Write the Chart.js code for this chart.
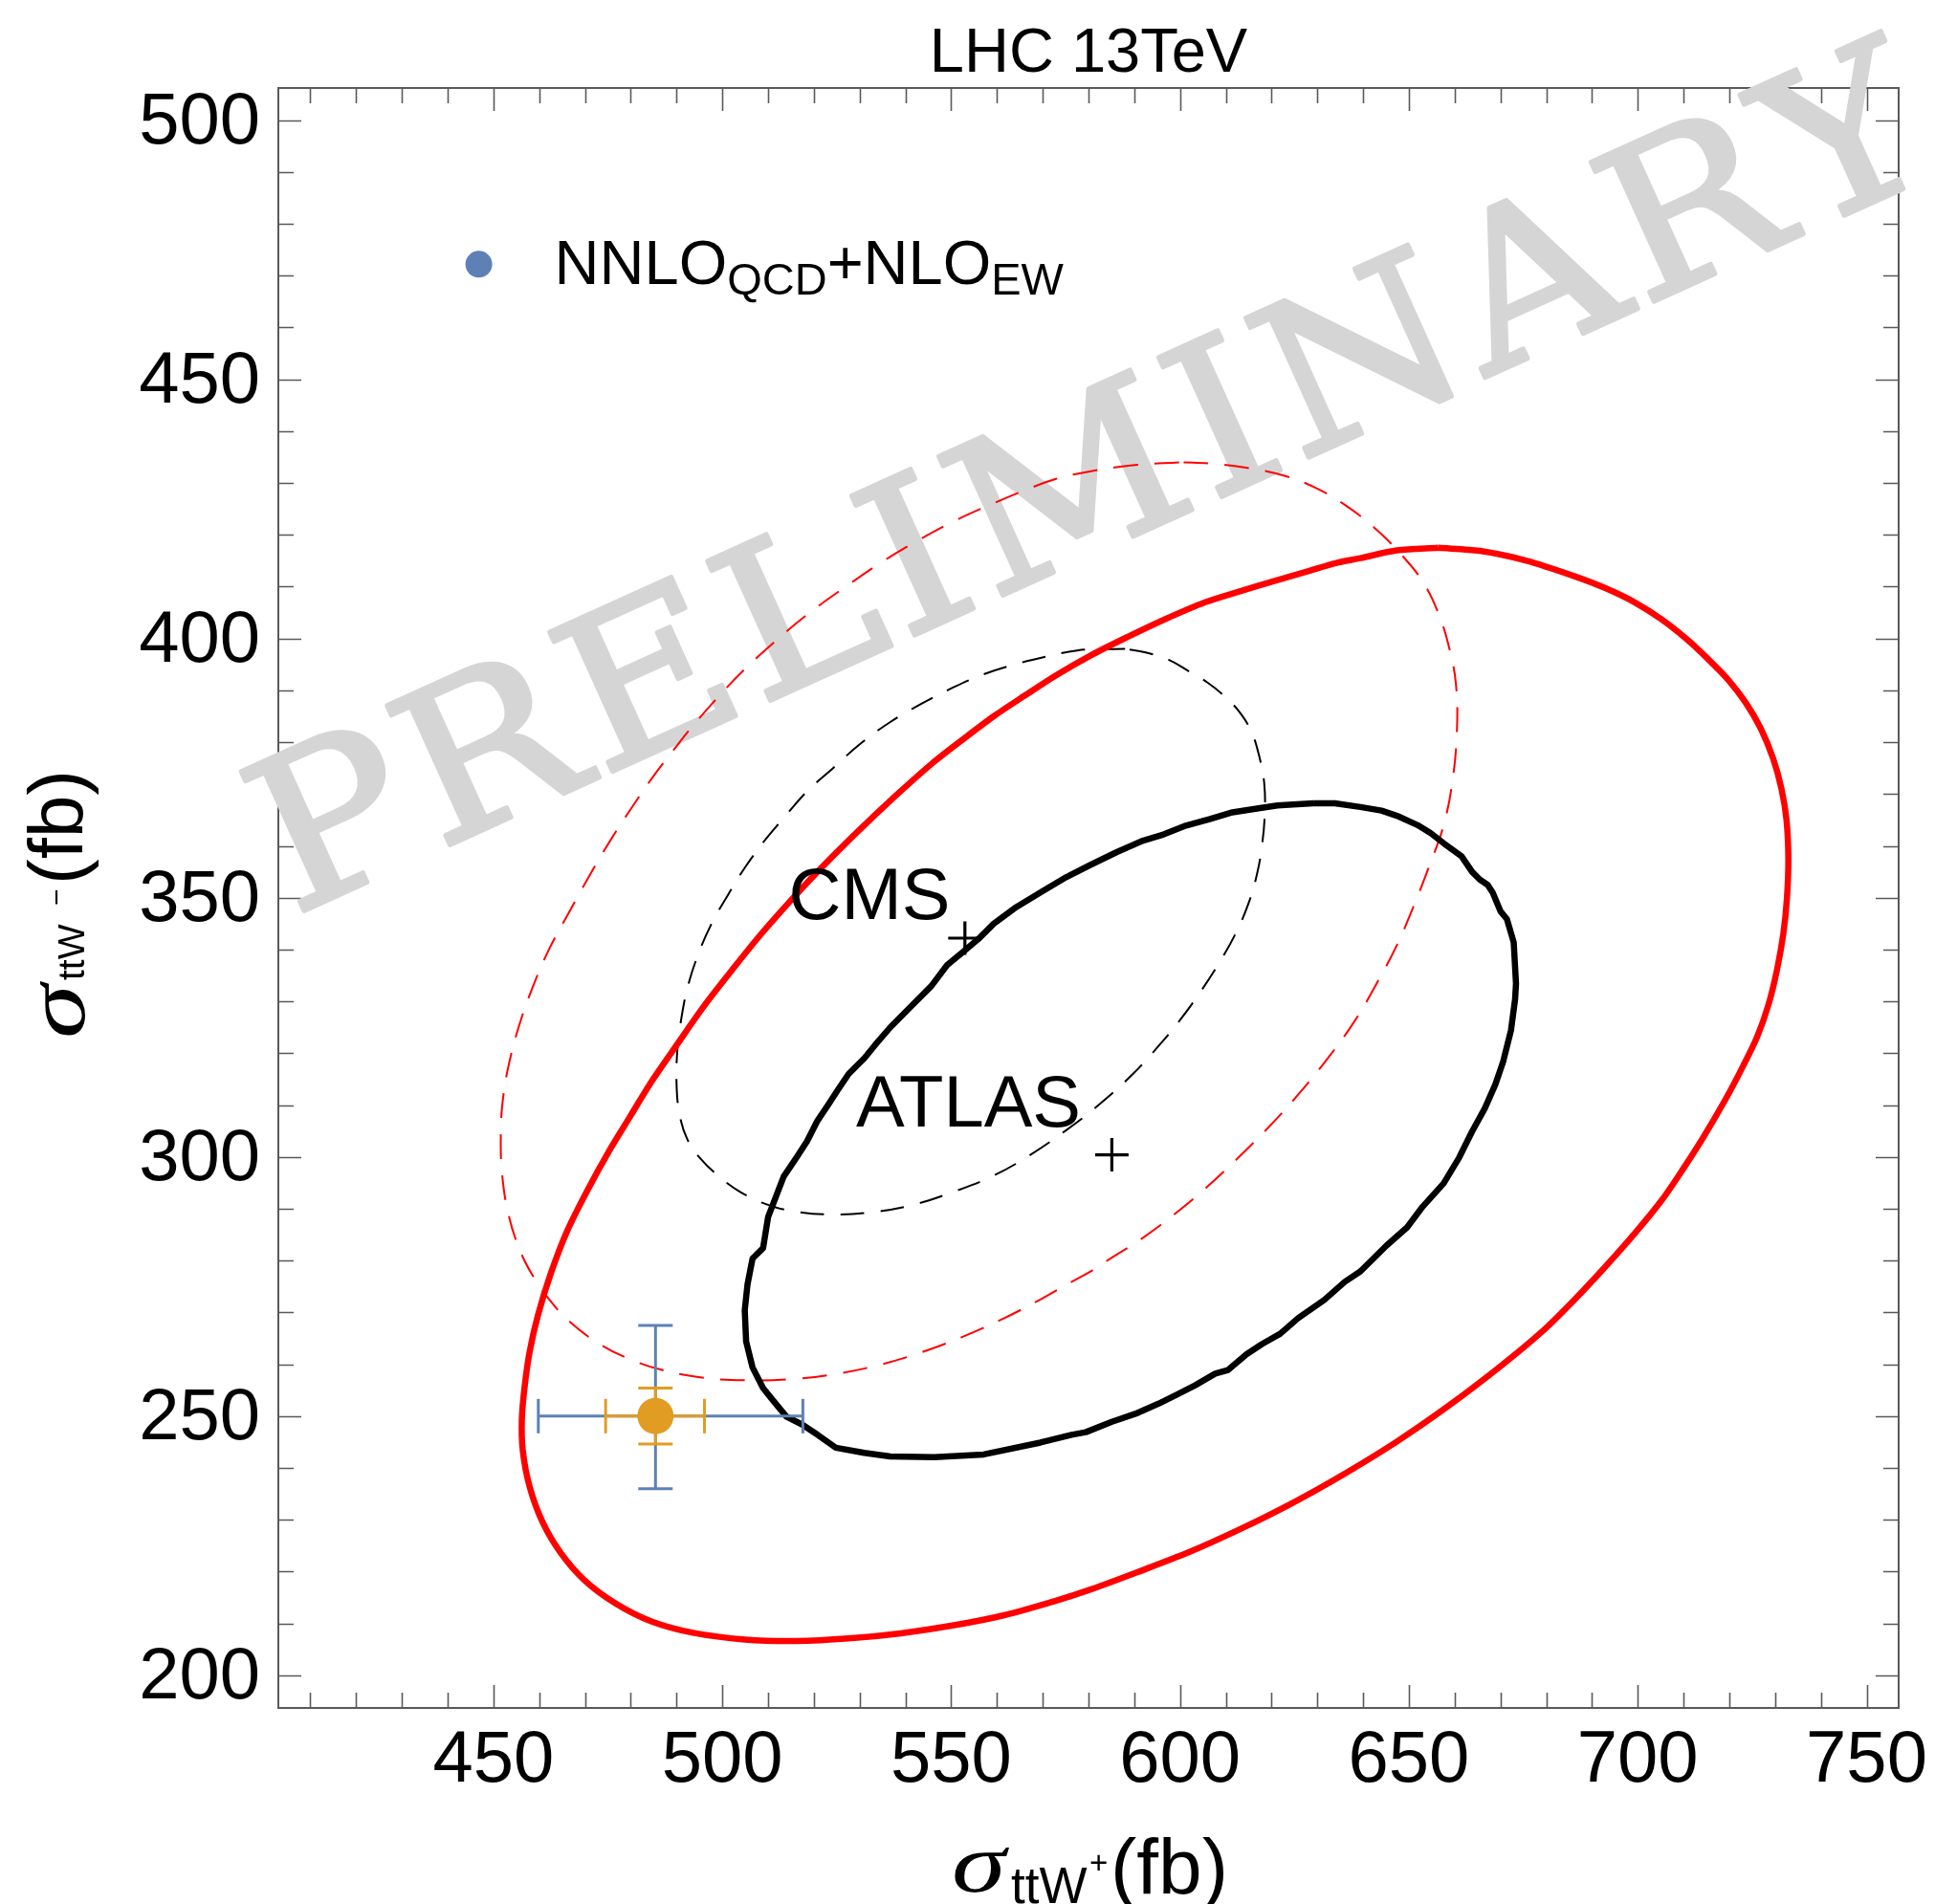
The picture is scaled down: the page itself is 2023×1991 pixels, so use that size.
<!DOCTYPE html>
<html><head><meta charset="utf-8">
<script src="https://cdn.jsdelivr.net/npm/chart.js@4.4.1/dist/chart.umd.min.js"></script>
<style>html,body{margin:0;padding:0;background:#fff;}canvas{display:block;}</style>
</head><body>
<canvas id="c" width="2023" height="1991"></canvas>
<script>
// ---------- data ----------
const xTicks = [450, 500, 550, 600, 650, 700, 750];
const xTickLabels = ['450', '500', '550', '600', '650', '700', '750'];
const yTicks = [200, 250, 300, 350, 400, 450, 500];
const yTickLabels = ['200', '250', '300', '350', '400', '450', '500'];

const redSolidContour = [
[656.4,417.5],[647.4,417.0],[639.4,415.5],[633.8,414.5],[628.1,413.0],[620.2,411.0],[613.4,409.2],[605.5,407.0],[596.4,403.6],[588.5,400.3],
[580.6,396.8],[572.9,392.9],[566.1,389.0],[559.3,385.0],[552.5,380.5],[545.7,375.8],[537.8,369.6],[528.7,362.0],[520.8,355.0],[515.1,349.6],
[508.3,342.8],[502.7,336.7],[495.9,329.0],[490.2,321.8],[484.5,314.5],[480.0,308.0],[475.5,301.5],[470.5,293.5],[466.0,285.5],[462.4,277.2],
[459.7,269.4],[457.9,262.4],[456.8,255.6],[456.2,249.4],[456.4,243.4],[457.9,236.4],[460.8,229.4],[464.7,223.6],[469.8,218.4],[476.6,213.9],
[484.5,210.4],[493.6,208.2],[504.9,206.9],[516.3,206.6],[527.6,207.1],[539.0,208.1],[550.3,209.6],[561.6,211.6],[572.9,214.4],[580.6,216.6],
[590.7,219.9],[602.1,223.8],[613.4,228.3],[624.7,233.3],[636.0,238.9],[647.4,245.1],[658.7,252.0],[670.0,259.6],[679.1,266.3],[685.9,272.2],
[692.7,278.6],[699.5,285.4],[705.2,291.6],[709.7,297.4],[714.2,303.6],[719.3,311.3],[723.0,317.5],[726.1,323.2],[728.6,329.5],[730.4,336.0],
[731.8,343.0],[732.6,350.0],[732.9,357.5],[732.5,365.0],[731.4,371.0],[729.6,376.8],[726.9,382.6],[723.6,387.6],[719.8,392.0],[715.4,396.0],
[710.8,399.8],[705.2,403.7],[699.5,406.9],[692.7,409.8],[685.9,412.1],[675.7,415.0],[665.5,416.9],[656.4,417.5]
];

const blackSolidContour = [
[629.2,368.2],[624.7,368.0],[621.3,367.8],[616.8,367.2],[611.1,366.4],[606.6,365.2],[600.9,363.8],[596.4,362.2],[591.9,361.0],[586.2,358.8],
[580.6,356.4],[575.2,354.0],[569.5,351.0],[563.9,348.0],[559.3,345.0],[555.9,342.0],[552.5,339.5],[549.1,337.0],[545.7,333.0],[541.2,329.0],
[536.7,325.0],[533.3,321.5],[531.0,319.0],[527.6,316.0],[525.3,313.0],[523.1,310.0],[520.8,307.0],[518.5,303.0],[516.3,300.0],[513.4,296.2],
[510.0,288.4],[508.9,282.4],[506.6,280.4],[505.5,275.4],[504.9,270.4],[505.2,264.4],[506.6,259.4],[508.9,255.4],[511.2,252.9],[514.0,249.9],
[517.4,248.4],[520.8,246.4],[524.8,243.9],[531.0,242.9],[536.7,242.2],[546.3,242.1],[557.1,242.6],[569.5,244.9],[576.3,246.4],[579.4,246.9],
[585.1,248.9],[590.7,250.6],[595.3,252.4],[599.2,254.1],[603.2,255.9],[607.7,258.2],[610.5,258.9],[614.5,261.9],[617.9,263.9],[621.9,265.9],
[625.8,268.9],[631.5,272.4],[636.0,275.9],[639.4,277.9],[645.1,282.9],[649.6,286.4],[653.0,290.4],[657.6,294.9],[661.0,299.9],[663.8,304.9],
[666.6,309.4],[668.9,314.0],[670.6,318.4],[672.3,324.4],[673.2,330.4],[673.4,333.4],[672.9,341.4],[671.4,345.9],[670.0,347.4],[668.3,351.0],
[667.2,352.5],[665.5,353.5],[663.8,355.0],[661.5,358.0],[657.6,360.5],[654.7,362.5],[651.9,364.0],[647.4,365.8],[644.0,366.8],[639.4,367.5],
[633.8,368.2],[629.2,368.2]
];

const redDashedEllipse = [
[599.8,434.0],[590.7,433.5],[580.0,432.2],[572.9,430.8],[566.1,428.6],[559.3,426.1],[550.3,422.5],[542.3,418.7],[534.4,414.5],[527.6,410.4],
[519.7,405.4],[512.9,400.5],[506.1,395.1],[500.4,390.0],[493.6,383.2],[489.1,378.2],[484.5,372.9],[480.0,367.1],[475.5,361.0],[471.0,354.3],
[466.4,347.0],[461.9,339.6],[458.5,332.6],[455.7,325.6],[453.5,318.4],[452.1,311.4],[451.6,304.3],[451.9,296.6],[453.2,289.2],[455.5,282.6],
[458.5,277.2],[462.1,272.6],[466.4,268.4],[473.2,263.9],[480.0,260.9],[486.8,258.9],[495.9,257.4],[506.1,256.9],[516.3,257.2],[525.3,258.2],
[534.4,259.9],[543.5,262.3],[552.5,265.3],[561.6,268.9],[569.5,272.5],[576.3,275.9],[580.6,278.0],[583.9,279.9],[591.9,284.4],[598.7,288.9],
[605.5,293.9],[612.2,299.4],[619.0,305.4],[625.8,312.0],[632.6,319.4],[638.3,326.4],[642.8,333.2],[647.4,340.9],[651.1,348.5],[654.4,356.0],
[657.6,364.0],[659.6,373.0],[660.5,382.5],[660.3,391.0],[659.0,397.5],[656.6,404.5],[653.0,411.0],[647.8,416.7],[642.3,421.5],[636.0,425.8],
[629.3,429.2],[622.8,431.4],[615.6,432.8],[607.7,433.7],[599.8,434.0]
];

const blackDashedEllipse = [
[588.0,398.0],[581.7,397.9],[577.5,397.7],[570.7,396.5],[563.9,395.0],[557.1,393.1],[550.3,390.5],[543.5,387.4],[536.7,383.9],[529.9,379.5],
[524.2,375.0],[518.5,370.5],[514.0,366.0],[509.5,361.3],[505.0,355.9],[501.0,350.2],[497.6,344.9],[494.7,339.0],[492.5,333.0],[491.1,327.0],
[490.2,320.8],[490.0,314.0],[490.7,308.0],[492.4,303.3],[495.3,299.6],[499.3,296.2],[503.8,293.3],[509.5,290.9],[516.3,289.4],[524.2,288.9],
[533.3,289.4],[542.3,290.9],[550.3,293.2],[559.3,296.4],[567.3,300.4],[575.2,305.2],[582.2,310.0],[589.6,315.9],[595.5,321.6],[600.0,326.4],
[604.2,331.5],[608.6,337.5],[612.2,343.2],[615.0,349.0],[616.8,354.5],[617.9,360.0],[618.5,366.0],[618.4,372.0],[617.3,377.3],[615.6,382.0],
[613.0,385.8],[609.8,388.8],[606.0,391.5],[602.1,393.6],[597.5,395.9],[592.5,397.3],[588.0,398.0]
];

const nnloPoint = [485.4, 250.0];
const nnloOuterX = [459.8, 517.6];   // blue horizontal bar
const nnloOuterY = [236.0, 267.5];   // blue vertical bar
const nnloInnerX = [474.5, 496.1];   // orange horizontal bar
const nnloInnerY = [244.6, 255.4];   // orange vertical bar
const cmsCenter = [553.0, 342.2];
const atlasCenter = [585.1, 300.4];
const cmsLabelPos = [514.5, 345.9];
const atlasLabelPos = [529.2, 305.9];
const legendPos = [446.8, 472.2];

// ---------- helpers ----------
const pts = arr => arr.map(p => ({x: p[0], y: p[1]}));
const BLUE = '#5E81B5', ORANGE = '#E19C24';
const SANS = '"Liberation Sans", Arial, Helvetica, sans-serif';
const SERIF_IT = 'italic 88px "Liberation Serif", "Times New Roman", serif';

function txt(ctx, s, x, y, font, align) {
  ctx.font = font; ctx.textAlign = align || 'left'; ctx.textBaseline = 'alphabetic';
  ctx.fillText(s, x, y);
}
function sigma(ctx, x, y) {
  ctx.save(); ctx.translate(x, y); ctx.scale(1.3, 1);
  txt(ctx, '\u03C3', 0, 0, SERIF_IT); ctx.restore();
}

const decor = {
  id: 'decor',
  beforeDatasetsDraw(chart) {
    const {ctx, chartArea: a, scales: {x, y}} = chart;
    ctx.save();
    // frame
    ctx.strokeStyle = '#595959'; ctx.lineWidth = 2;
    ctx.strokeRect(a.left, a.top, a.right - a.left, a.bottom - a.top);
    // ticks (inward on all four sides)
    ctx.lineWidth = 1.6; ctx.strokeStyle = '#595959';
    ctx.beginPath();
    for (let v = 410; v <= 750; v += 10) {
      const px = Math.round(x.getPixelForValue(v)) + 0.5;
      const len = v % 50 === 0 ? 24 : 16;
      ctx.moveTo(px, a.bottom); ctx.lineTo(px, a.bottom - len);
      ctx.moveTo(px, a.top); ctx.lineTo(px, a.top + len);
    }
    for (let v = 200; v <= 500; v += 10) {
      const py = Math.round(y.getPixelForValue(v)) + 0.5;
      const len = v % 50 === 0 ? 24 : 16;
      ctx.moveTo(a.left, py); ctx.lineTo(a.left + len, py);
      ctx.moveTo(a.right, py); ctx.lineTo(a.right - len, py);
    }
    ctx.stroke();
    // tick labels
    ctx.fillStyle = '#000';
    xTicks.forEach((v, i) => txt(ctx, xTickLabels[i], x.getPixelForValue(v), a.bottom + 77, '76px ' + SANS, 'center'));
    yTicks.forEach((v, i) => txt(ctx, yTickLabels[i], a.left - 19, y.getPixelForValue(v) + 24, '76px ' + SANS, 'right'));
    // watermark
    ctx.save();
    ctx.translate(306, 958);
    ctx.rotate(-24.3 * Math.PI / 180);
    ctx.scale(1.08, 1);
    ctx.fillStyle = '#d5d5d5'; ctx.strokeStyle = '#d5d5d5';
    ctx.lineWidth = 4.5; ctx.lineJoin = 'round';
    ctx.font = '220px "DejaVu Serif"'; ctx.textAlign = 'left'; ctx.textBaseline = 'alphabetic';
    let u = 0;
    for (const ch of 'PRELIMINARY') {
      ctx.fillText(ch, u, 0); ctx.strokeText(ch, u, 0);
      u += ctx.measureText(ch).width + 7;
    }
    ctx.restore();
    ctx.restore();
  },
  afterDatasetsDraw(chart) {
    const {ctx, chartArea: a, scales: {x, y}} = chart;
    ctx.save();
    ctx.fillStyle = '#000';
    // CMS / ATLAS labels
    txt(ctx, 'CMS', x.getPixelForValue(cmsLabelPos[0]), y.getPixelForValue(cmsLabelPos[1]), '76px ' + SANS);
    txt(ctx, 'ATLAS', x.getPixelForValue(atlasLabelPos[0]), y.getPixelForValue(atlasLabelPos[1]), '76px ' + SANS);
    // legend
    const lx = x.getPixelForValue(legendPos[0]), ly = y.getPixelForValue(legendPos[1]);
    ctx.fillStyle = BLUE;
    ctx.beginPath(); ctx.arc(lx, ly, 14, 0, Math.PI * 2); ctx.fill();
    ctx.fillStyle = '#000';
    let cx = lx + 79; const base = ly + 20.5;
    const run = [['NNLO', 65, 0], ['QCD', 47, 11], ['+NLO', 65, 0], ['EW', 47, 11]];
    run.forEach(([s, f, dy]) => {
      txt(ctx, s, cx, base + dy, f + 'px ' + SANS);
      cx += ctx.measureText(s).width;
    });
    // title
    txt(ctx, 'LHC 13TeV', (a.left + a.right) / 2, 75, '65px ' + SANS, 'center');
    // x axis title
    sigma(ctx, 995, 1978);
    txt(ctx, 'ttW', 1057, 1990, '53px ' + SANS);
    txt(ctx, '+', 1139, 1959, '33px ' + SANS);
    txt(ctx, '(fb)', 1161, 1980, '82px ' + SANS);
    // y axis title (rotated)
    ctx.save();
    ctx.translate(88, 1083);
    ctx.rotate(-Math.PI / 2);
    sigma(ctx, -3, 0);
    txt(ctx, 'ttW', 58, 0, '39px ' + SANS);
    txt(ctx, '\u2212', 136, -19, '30px ' + SANS);
    txt(ctx, '(fb)', 158, -2, '80px ' + SANS);
    ctx.restore();
    ctx.restore();
  }
};

const curve = (data, color, width, dash, tension, order) => ({
  data: pts(data), showLine: true, borderColor: color, borderWidth: width,
  borderDash: dash, tension: tension, pointRadius: 0, fill: false, order: order,
  borderCapStyle: 'butt', borderJoinStyle: 'round'
});
const bar = (data, color, rot, order) => ({
  data: pts(data), showLine: true, borderColor: color, borderWidth: 3,
  pointStyle: 'line', pointRotation: rot, pointRadius: 18, pointBorderWidth: 3,
  pointBorderColor: color, pointBackgroundColor: color, order: order
});

new Chart(document.getElementById('c'), {
  type: 'scatter',
  data: {
    datasets: [
      curve(redDashedEllipse, '#FF0000', 2, [26, 17], 0.4, 10),
      curve(blackDashedEllipse, '#000000', 2, [25, 17], 0.4, 9),
      curve(redSolidContour, '#FF0000', 6.5, [], 0.3, 8),
      curve(blackSolidContour, '#000000', 6.5, [], 0, 7),
      bar([[nnloOuterX[0], nnloPoint[1]], [nnloOuterX[1], nnloPoint[1]]], BLUE, 90, 6),
      bar([[nnloPoint[0], nnloOuterY[0]], [nnloPoint[0], nnloOuterY[1]]], BLUE, 0, 5),
      bar([[nnloInnerX[0], nnloPoint[1]], [nnloInnerX[1], nnloPoint[1]]], ORANGE, 90, 4),
      bar([[nnloPoint[0], nnloInnerY[0]], [nnloPoint[0], nnloInnerY[1]]], ORANGE, 0, 3),
      {data: pts([nnloPoint]), pointRadius: 19, pointStyle: 'circle', backgroundColor: ORANGE, borderWidth: 0, order: 2},
      {data: pts([cmsCenter, atlasCenter]), pointRadius: 17.5, pointStyle: 'cross', borderColor: '#000', pointBorderWidth: 3.2, borderWidth: 3.2, order: 1}
    ]
  },
  options: {
    responsive: false, animation: false, devicePixelRatio: 1,
    layout: {padding: {left: 291, right: 38, top: 92, bottom: 205}},
    plugins: {legend: {display: false}, tooltip: {enabled: false}, title: {display: false}},
    scales: {
      x: {type: 'linear', min: 403.0, max: 757.0, display: false},
      y: {type: 'linear', min: 193.7, max: 506.2, display: false}
    },
    elements: {point: {hoverRadius: 0}}
  },
  plugins: [decor]
});
</script>
</body></html>
